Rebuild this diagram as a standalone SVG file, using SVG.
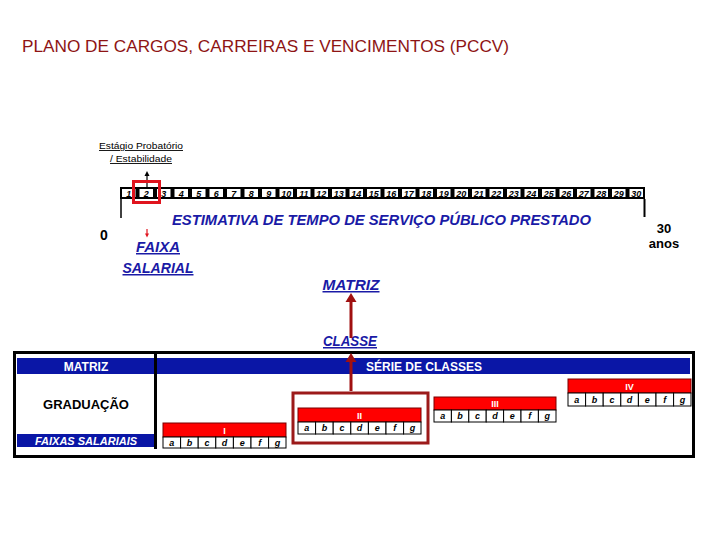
<svg xmlns="http://www.w3.org/2000/svg" width="720" height="540" viewBox="0 0 720 540">
<defs>
<style>
.t{font-family:"Liberation Sans",Arial,sans-serif}
.title{font-size:17px;fill:#8e1414}
.blue{fill:#1a1aa6;font-weight:bold;font-style:italic}
.ul{text-decoration:underline}
.num{font-size:9px;font-weight:bold;font-style:italic;fill:#000;text-anchor:middle}
.let{font-size:9px;font-weight:bold;font-style:italic;fill:#000;text-anchor:middle}
.hdr{font-size:12px;font-weight:bold;fill:#fff;text-anchor:middle}
.rbar{fill:#ff0000;stroke:#7a0000;stroke-width:1}
.cell{fill:#fff;stroke:#000;stroke-width:1}
.rn{font-size:9px;font-weight:bold;fill:#fff;text-anchor:middle}
.conn{stroke:#a01010;stroke-width:3;fill:none}
.head{fill:#a01010}
</style>
</defs>
<rect width="720" height="540" fill="#fff"/>
<text class="t title" x="22" y="52" textLength="487" lengthAdjust="spacingAndGlyphs">PLANO DE CARGOS, CARREIRAS E VENCIMENTOS (PCCV)</text>

<g id="timeline">
<text class="t ul" x="141" y="149" font-size="9" text-anchor="middle" textLength="84" lengthAdjust="spacingAndGlyphs">Estágio Probatório</text>
<text class="t ul" x="141" y="162" font-size="9" text-anchor="middle" textLength="62" lengthAdjust="spacingAndGlyphs">/ Estabilidade</text>
<line x1="147" y1="187" x2="147" y2="175" stroke="#000" stroke-width="1.2"/>
<path d="M144.5,176 L147,171 L149.5,176 Z" fill="#000"/>
<rect x="120" y="187" width="525" height="12" fill="#000"/>
<g id="cells">
<rect x="122" y="189" width="13.5" height="8" fill="#fff"/><text class="t num" x="128.8" y="196.5">1</text>
<rect x="139.5" y="189" width="13.5" height="8" fill="#fff"/><text class="t num" x="146.3" y="196.5">2</text>
<rect x="157" y="189" width="13.5" height="8" fill="#fff"/><text class="t num" x="163.8" y="196.5">3</text>
<rect x="174.5" y="189" width="13.5" height="8" fill="#fff"/><text class="t num" x="181.3" y="196.5">4</text>
<rect x="192" y="189" width="13.5" height="8" fill="#fff"/><text class="t num" x="198.8" y="196.5">5</text>
<rect x="209.5" y="189" width="13.5" height="8" fill="#fff"/><text class="t num" x="216.3" y="196.5">6</text>
<rect x="227" y="189" width="13.5" height="8" fill="#fff"/><text class="t num" x="233.8" y="196.5">7</text>
<rect x="244.5" y="189" width="13.5" height="8" fill="#fff"/><text class="t num" x="251.3" y="196.5">8</text>
<rect x="262" y="189" width="13.5" height="8" fill="#fff"/><text class="t num" x="268.8" y="196.5">9</text>
<rect x="279.5" y="189" width="13.5" height="8" fill="#fff"/><text class="t num" x="286.3" y="196.5">10</text>
<rect x="297" y="189" width="13.5" height="8" fill="#fff"/><text class="t num" x="303.8" y="196.5">11</text>
<rect x="314.5" y="189" width="13.5" height="8" fill="#fff"/><text class="t num" x="321.3" y="196.5">12</text>
<rect x="332" y="189" width="13.5" height="8" fill="#fff"/><text class="t num" x="338.8" y="196.5">13</text>
<rect x="349.5" y="189" width="13.5" height="8" fill="#fff"/><text class="t num" x="356.3" y="196.5">14</text>
<rect x="367" y="189" width="13.5" height="8" fill="#fff"/><text class="t num" x="373.8" y="196.5">15</text>
<rect x="384.5" y="189" width="13.5" height="8" fill="#fff"/><text class="t num" x="391.3" y="196.5">16</text>
<rect x="402" y="189" width="13.5" height="8" fill="#fff"/><text class="t num" x="408.8" y="196.5">17</text>
<rect x="419.5" y="189" width="13.5" height="8" fill="#fff"/><text class="t num" x="426.3" y="196.5">18</text>
<rect x="437" y="189" width="13.5" height="8" fill="#fff"/><text class="t num" x="443.8" y="196.5">19</text>
<rect x="454.5" y="189" width="13.5" height="8" fill="#fff"/><text class="t num" x="461.3" y="196.5">20</text>
<rect x="472" y="189" width="13.5" height="8" fill="#fff"/><text class="t num" x="478.8" y="196.5">21</text>
<rect x="489.5" y="189" width="13.5" height="8" fill="#fff"/><text class="t num" x="496.3" y="196.5">22</text>
<rect x="507" y="189" width="13.5" height="8" fill="#fff"/><text class="t num" x="513.8" y="196.5">23</text>
<rect x="524.5" y="189" width="13.5" height="8" fill="#fff"/><text class="t num" x="531.3" y="196.5">24</text>
<rect x="542" y="189" width="13.5" height="8" fill="#fff"/><text class="t num" x="548.8" y="196.5">25</text>
<rect x="559.5" y="189" width="13.5" height="8" fill="#fff"/><text class="t num" x="566.3" y="196.5">26</text>
<rect x="577" y="189" width="13.5" height="8" fill="#fff"/><text class="t num" x="583.8" y="196.5">27</text>
<rect x="594.5" y="189" width="13.5" height="8" fill="#fff"/><text class="t num" x="601.3" y="196.5">28</text>
<rect x="612" y="189" width="13.5" height="8" fill="#fff"/><text class="t num" x="618.8" y="196.5">29</text>
<rect x="629.5" y="189" width="13.5" height="8" fill="#fff"/><text class="t num" x="636.3" y="196.5">30</text>
</g>
<rect x="133.5" y="181.5" width="26" height="21" fill="none" stroke="#e0141e" stroke-width="3"/>
<line x1="121" y1="199" x2="121" y2="218" stroke="#000" stroke-width="1.5"/>
<line x1="644.5" y1="199" x2="644.5" y2="217" stroke="#000" stroke-width="2"/>
<text class="t blue" x="172" y="225" font-size="15" textLength="419" lengthAdjust="spacingAndGlyphs">ESTIMATIVA DE TEMPO DE SERVIÇO PÚBLICO PRESTADO</text>
<text class="t" x="104" y="240" font-size="14" font-weight="bold" text-anchor="middle">0</text>
<text class="t" x="664" y="233" font-size="13" font-weight="bold" text-anchor="middle">30</text>
<text class="t" x="664" y="248" font-size="13" font-weight="bold" text-anchor="middle">anos</text>
<line x1="147" y1="229" x2="147" y2="234" stroke="#e0141e" stroke-width="1.2"/>
<path d="M145,233.5 L147,237.5 L149,233.5 Z" fill="#e0141e"/>
</g>

<g id="labels">
<text class="t blue ul" x="158" y="252" font-size="15" font-weight="normal" text-anchor="middle" textLength="44" lengthAdjust="spacingAndGlyphs">FAIXA</text>
<text class="t blue ul" x="158" y="273" font-size="15" font-weight="normal" text-anchor="middle" textLength="71" lengthAdjust="spacingAndGlyphs">SALARIAL</text>
<text class="t blue ul" x="351" y="290" font-size="15" font-weight="normal" text-anchor="middle" textLength="57" lengthAdjust="spacingAndGlyphs">MATRIZ</text>
<text class="t blue ul" x="350" y="346" font-size="15" font-weight="normal" text-anchor="middle" textLength="54" lengthAdjust="spacingAndGlyphs">CLASSE</text>
</g>

<g id="table">
<rect x="14.5" y="352.5" width="679" height="104" fill="#fff" stroke="#000" stroke-width="3"/>
<rect x="17" y="358" width="137" height="16" fill="#0a16a6"/>
<text class="t hdr" x="86" y="370.5">MATRIZ</text>
<rect x="157" y="358" width="533" height="16" fill="#0a16a6"/>
<text class="t hdr" x="424" y="370.5">SÉRIE DE CLASSES</text>
<line x1="155.5" y1="354" x2="155.5" y2="449" stroke="#000" stroke-width="3"/>
<text class="t" x="86" y="409" font-size="13" font-weight="bold" text-anchor="middle">GRADUAÇÃO</text>
<rect x="17" y="434" width="137" height="13" fill="#0a16a6"/>
<text class="t" x="86" y="444.5" font-size="11" font-weight="bold" font-style="italic" fill="#fff" text-anchor="middle">FAIXAS SALARIAIS</text>
</g>

<g id="classe-I">
<rect class="rbar" x="163" y="423" width="123" height="14"/>
<text class="t rn" x="224.5" y="433.5">I</text>
<rect class="cell" x="163" y="437" width="17.6" height="11"/><text class="t let" x="171.8" y="445.5">a</text>
<rect class="cell" x="180.6" y="437" width="17.6" height="11"/><text class="t let" x="189.4" y="445.5">b</text>
<rect class="cell" x="198.2" y="437" width="17.6" height="11"/><text class="t let" x="207" y="445.5">c</text>
<rect class="cell" x="215.8" y="437" width="17.6" height="11"/><text class="t let" x="224.6" y="445.5">d</text>
<rect class="cell" x="233.4" y="437" width="17.6" height="11"/><text class="t let" x="242.2" y="445.5">e</text>
<rect class="cell" x="251" y="437" width="17.6" height="11"/><text class="t let" x="259.8" y="445.5">f</text>
<rect class="cell" x="268.6" y="437" width="17.4" height="11"/><text class="t let" x="277.4" y="445.5">g</text>
</g>

<g id="classe-II">
<rect x="293" y="393" width="135" height="50" fill="none" stroke="#9c1a1a" stroke-width="3"/>
<rect class="rbar" x="298" y="408" width="123" height="14"/>
<text class="t rn" x="359.5" y="418.5">II</text>
<rect class="cell" x="298" y="422" width="17.6" height="12"/><text class="t let" x="306.8" y="431">a</text>
<rect class="cell" x="315.6" y="422" width="17.6" height="12"/><text class="t let" x="324.4" y="431">b</text>
<rect class="cell" x="333.2" y="422" width="17.6" height="12"/><text class="t let" x="342" y="431">c</text>
<rect class="cell" x="350.8" y="422" width="17.6" height="12"/><text class="t let" x="359.6" y="431">d</text>
<rect class="cell" x="368.4" y="422" width="17.6" height="12"/><text class="t let" x="377.2" y="431">e</text>
<rect class="cell" x="386" y="422" width="17.6" height="12"/><text class="t let" x="394.8" y="431">f</text>
<rect class="cell" x="403.6" y="422" width="17.4" height="12"/><text class="t let" x="412.4" y="431">g</text>
</g>

<g id="classe-III">
<rect class="rbar" x="434" y="397" width="122" height="13"/>
<text class="t rn" x="495" y="407">III</text>
<rect class="cell" x="434" y="410" width="17.4" height="12"/><text class="t let" x="442.7" y="419">a</text>
<rect class="cell" x="451.4" y="410" width="17.4" height="12"/><text class="t let" x="460.1" y="419">b</text>
<rect class="cell" x="468.8" y="410" width="17.4" height="12"/><text class="t let" x="477.5" y="419">c</text>
<rect class="cell" x="486.2" y="410" width="17.4" height="12"/><text class="t let" x="494.9" y="419">d</text>
<rect class="cell" x="503.6" y="410" width="17.4" height="12"/><text class="t let" x="512.3" y="419">e</text>
<rect class="cell" x="521" y="410" width="17.4" height="12"/><text class="t let" x="529.7" y="419">f</text>
<rect class="cell" x="538.4" y="410" width="17.6" height="12"/><text class="t let" x="547.2" y="419">g</text>
</g>

<g id="classe-IV">
<rect class="rbar" x="568" y="379" width="123" height="14"/>
<text class="t rn" x="629.5" y="389.5">IV</text>
<rect class="cell" x="568" y="393" width="17.6" height="13"/><text class="t let" x="576.8" y="402.5">a</text>
<rect class="cell" x="585.6" y="393" width="17.6" height="13"/><text class="t let" x="594.4" y="402.5">b</text>
<rect class="cell" x="603.2" y="393" width="17.6" height="13"/><text class="t let" x="612" y="402.5">c</text>
<rect class="cell" x="620.8" y="393" width="17.6" height="13"/><text class="t let" x="629.6" y="402.5">d</text>
<rect class="cell" x="638.4" y="393" width="17.6" height="13"/><text class="t let" x="647.2" y="402.5">e</text>
<rect class="cell" x="656" y="393" width="17.6" height="13"/><text class="t let" x="664.8" y="402.5">f</text>
<rect class="cell" x="673.6" y="393" width="17.4" height="13"/><text class="t let" x="682.4" y="402.5">g</text>
</g>

<g id="connectors">
<line class="conn" x1="351" y1="338" x2="351" y2="300"/>
<path class="head" d="M345.5,302 L351,293 L356.5,302 Z"/>
<line class="conn" x1="351" y1="391" x2="351" y2="360"/>
<path class="head" d="M345.5,362 L351,353 L356.5,362 Z"/>
</g>
</svg>
